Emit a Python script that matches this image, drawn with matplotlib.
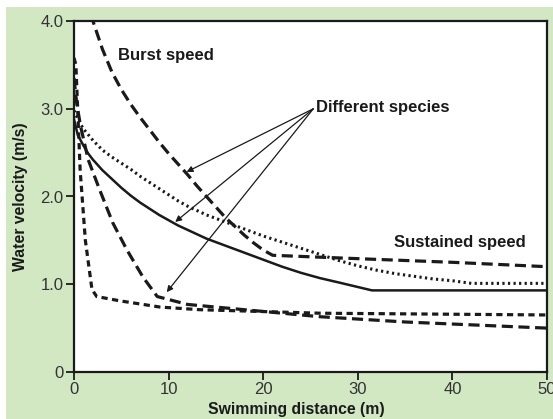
import numpy as np
import matplotlib
matplotlib.use("Agg")
import matplotlib.pyplot as plt
from matplotlib.patches import Rectangle

plt.rcParams['font.family'] = ['Liberation Sans', 'DejaVu Sans']
plt.rcParams['lines.scale_dashes'] = False

# burst speed curve (upper long dash)
burst_x = [1.8, 2, 3, 4, 5, 6, 7, 8, 9, 10, 11, 12, 13, 14, 15, 16, 17, 18, 19, 20, 21, 28, 40, 50]
burst_y = [4.08, 4.0, 3.68, 3.42, 3.22, 3.05, 2.90, 2.76, 2.62, 2.49, 2.37, 2.25, 2.12, 2.00,
           1.88, 1.76, 1.66, 1.56, 1.47, 1.39, 1.33, 1.30, 1.25, 1.20]

# dotted species
dot_x = [0, 0.5, 1, 2, 3, 4, 5, 6, 7, 8, 9, 10, 11, 12, 14, 16, 18, 20, 22, 24, 26, 28,
         30, 32, 34, 36, 38, 40, 42, 50]
dot_y = [2.98, 2.86, 2.77, 2.64, 2.53, 2.45, 2.38, 2.31, 2.23, 2.16, 2.09, 2.02, 1.95, 1.89,
         1.79, 1.71, 1.63, 1.55, 1.48, 1.41, 1.34, 1.27, 1.21, 1.16, 1.12, 1.09, 1.06, 1.04,
         1.01, 1.01]

# solid species
solid_x = [0, 0.4, 1, 1.5, 2, 3, 4, 5, 6, 7, 8, 9, 10, 11, 12, 13, 14, 15, 16, 18, 20, 22,
           24, 26, 28, 31.5, 50]
solid_y = [2.88, 2.70, 2.58, 2.49, 2.42, 2.30, 2.20, 2.10, 2.01, 1.93, 1.86, 1.79, 1.73, 1.67,
           1.62, 1.57, 1.52, 1.48, 1.44, 1.36, 1.28, 1.20, 1.13, 1.07, 1.02, 0.93, 0.93]

# steep long dash species
steep_x = [0.0, 0.3, 0.7, 1.5, 2.7, 4.1, 5.6, 7.3, 8.8, 12.0, 20.0, 26.0, 35.0, 50.0]
steep_y = [3.35, 3.05, 2.80, 2.42, 2.08, 1.70, 1.39, 1.08, 0.86, 0.77, 0.69, 0.63, 0.57, 0.50]

# short dash species
short_x = [0.0, 0.2, 0.65, 1.2, 1.9, 2.4, 4.9, 9.1, 13.3, 26.0, 50.0]
short_y = [3.58, 3.50, 2.30, 1.50, 0.94, 0.86, 0.81, 0.74, 0.71, 0.67, 0.65]

x_ticks = [0, 10, 20, 30, 40, 50]
y_ticks = [0, 1, 2, 3, 4]
y_tick_labels = ['0', '1.0', '2.0', '3.0', '4.0']

# arrows from "Different species"
arrow_tail = (25.3, 3.0)
arrow_heads = [(11.9, 2.28), (10.7, 1.71), (9.8, 0.91)]

fig = plt.figure(figsize=(5.53, 4.19), dpi=100)
fig.patch.set_facecolor('white')
green = '#d1e8c3'
fig.patches.append(Rectangle((6 / 553, 0), 1, 1 - 7 / 419, transform=fig.transFigure,
                             facecolor=green, edgecolor='none', zorder=-10))

ax = fig.add_axes([74 / 553, (419 - 372) / 419, (547 - 74) / 553, (372 - 21) / 419])
ax.set_facecolor('white')

ink = '#1a1a1a'
ax.plot(burst_x, burst_y, color=ink, lw=2.3, dashes=(8, 4), dash_capstyle='butt')
ax.plot(dot_x, dot_y, color=ink, lw=2.2, dashes=(1.6, 2.4), dash_capstyle='butt')
ax.plot(solid_x, solid_y, color=ink, lw=1.8)
ax.plot(steep_x, steep_y, color=ink, lw=2.3, dashes=(8, 4), dash_capstyle='butt')
ax.plot(short_x, short_y, color=ink, lw=2.3, dashes=(4.5, 3.2), dash_capstyle='butt')

for hx, hy in arrow_heads:
    ax.annotate('', xy=(hx, hy), xytext=arrow_tail,
                arrowprops=dict(arrowstyle='-|>', color=ink, lw=0.9,
                                mutation_scale=9, shrinkA=0, shrinkB=0))

ax.text(9.7, 3.61, 'Burst speed', fontsize=12, fontweight='bold', color=ink,
        ha='center', va='center')
ax.text(25.6, 3.01, 'Different species', fontsize=12, fontweight='bold', color=ink,
        ha='left', va='center')
ax.text(40.8, 1.48, 'Sustained speed', fontsize=12, fontweight='bold', color=ink,
        ha='center', va='center')

ax.set_xlim(0, 50)
ax.set_ylim(0, 4)
ax.set_xticks(x_ticks)
ax.set_xticklabels([str(t) for t in x_ticks])
ax.set_yticks(y_ticks)
ax.set_yticklabels(y_tick_labels)
ax.tick_params(direction='out', length=6, width=1.3, color=ink,
               labelsize=12, labelcolor='#333333', pad=1.5)
for s in ax.spines.values():
    s.set_linewidth(1.6)
    s.set_color(ink)

ax.set_xlabel('Swimming distance (m)', fontsize=11.3, fontweight='bold', color=ink)
ax.set_ylabel('Water velocity (m/s)', fontsize=11.3, fontweight='bold', color=ink)
ax.xaxis.set_label_coords(0.47, -0.086)
ax.yaxis.set_label_coords(-0.097, 0.5)

fig.savefig('out.png', dpi=100, facecolor=fig.get_facecolor())
